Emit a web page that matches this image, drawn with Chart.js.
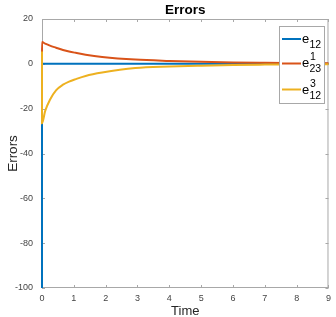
<!DOCTYPE html>
<html>
<head>
<meta charset="utf-8">
<script src="https://cdn.jsdelivr.net/npm/chart.js@4"></script>
<style>
html,body{margin:0;padding:0;background:#fff;}
#wrap{position:relative;width:336px;height:317px;}
canvas{display:block;}
</style>
</head>
<body>
<div id="wrap"><canvas id="c" width="336" height="317"></canvas></div>
<script>
// ---- data ----
const times = [0, 0.001, 0.1, 0.25, 0.44, 0.66, 0.85, 1.06, 1.37, 1.89, 2.93, 4, 5, 6, 7, 8, 9];
const e12   = [-100, 0, 0, 0, 0, 0, 0, 0, 0, 0, 0, 0, 0, 0, 0, 0, 0];
const e23_1 = [0, 9.7, 9.0, 8.1, 7.2, 6.2, 5.5, 4.9, 4.1, 3.1, 1.9, 1.3, 0.9, 0.6, 0.45, 0.35, 0.25];
const e12_3 = [5.5, -26.5, -21, -16, -11.8, -9.3, -7.9, -6.8, -5.4, -3.9, -1.9, -1.2, -0.8, -0.5, -0.35, -0.25, -0.2];
const xTicks = [0, 1, 2, 3, 4, 5, 6, 7, 8, 9];
const yTicks = [-100, -80, -60, -40, -20, 0, 20];
const seriesNames = [["e", "12", ""], ["e", "23", "1"], ["e", "12", "3"]];
const seriesColors = ["#0072BD", "#D95319", "#EDB120"];

const toPts = arr => times.map((t, i) => ({x: t, y: arr[i]}));
const FONT = "'Liberation Sans', Arial, Helvetica, sans-serif";
const AXC = "#a8a8a8";

const decor = {
  id: 'decor',
  beforeDatasetsDraw(chart) {
    const ctx = chart.ctx, a = chart.chartArea;
    const xs = chart.scales.x, ys = chart.scales.y;
    ctx.save();
    ctx.strokeStyle = AXC; ctx.lineWidth = 1;
    ctx.beginPath();
    ctx.rect(a.left + 0.5, a.top + 0.5, a.right - a.left - 1, a.bottom - a.top - 1);
    const tl = 3;
    xs.ticks.forEach((t, i) => {
      const px = Math.round(xs.getPixelForTick(i)) + 0.5;
      ctx.moveTo(px, a.bottom); ctx.lineTo(px, a.bottom - tl);
      ctx.moveTo(px, a.top); ctx.lineTo(px, a.top + tl);
    });
    ys.ticks.forEach((t, i) => {
      const py = Math.round(ys.getPixelForTick(i)) + 0.5;
      ctx.moveTo(a.left, py); ctx.lineTo(a.left + tl, py);
      ctx.moveTo(a.right, py); ctx.lineTo(a.right - tl, py);
    });
    ctx.stroke();
    ctx.restore();
  },
  afterDraw(chart) {
    const ctx = chart.ctx, a = chart.chartArea;
    ctx.save();
    ctx.fillStyle = "#000";
    ctx.font = "bold 13.5px " + FONT;
    ctx.textAlign = "center"; ctx.textBaseline = "alphabetic";
    ctx.fillText("Errors", (a.left + a.right) / 2, 14);
    ctx.fillStyle = "#262626";
    ctx.font = "13px " + FONT;
    ctx.fillText("Time", (a.left + a.right) / 2, 315);
    ctx.save();
    ctx.translate(17, (a.top + a.bottom) / 2);
    ctx.rotate(-Math.PI / 2);
    ctx.font = "13.5px " + FONT;
    ctx.fillText("Errors", 0, 0);
    ctx.restore();
    // legend
    const lx = 279, ly = 26, lw = 45, lh = 77;
    ctx.fillStyle = "#fff";
    ctx.fillRect(lx, ly, lw, lh);
    ctx.strokeStyle = AXC; ctx.lineWidth = 1;
    ctx.strokeRect(lx + 0.5, ly + 0.5, lw, lh);
    const rowsY = [39, 63.5, 89.5];
    const eBase = [42.5, 66.5, 94];
    seriesNames.forEach((n, i) => {
      ctx.strokeStyle = seriesColors[i]; ctx.lineWidth = 2;
      ctx.beginPath(); ctx.moveTo(282, rowsY[i]); ctx.lineTo(301, rowsY[i]); ctx.stroke();
      ctx.fillStyle = "#000"; ctx.textAlign = "left";
      ctx.font = "13px " + FONT;
      ctx.fillText(n[0], 302, eBase[i]);
      ctx.font = "10.5px " + FONT;
      ctx.fillText(n[1], 309.5, eBase[i] + 5);
      if (n[2]) ctx.fillText(n[2], 310, eBase[i] - 7);
    });
    ctx.restore();
  }
};

new Chart(document.getElementById('c'), {
  type: 'line',
  data: {
    datasets: [
      {data: toPts(e12), borderColor: seriesColors[0], order: 2},
      {data: toPts(e23_1), borderColor: seriesColors[1], order: 1},
      {data: toPts(e12_3), borderColor: seriesColors[2], order: 0}
    ].map(d => Object.assign(d, {borderWidth: 2, pointRadius: 0, cubicInterpolationMode: 'monotone', fill: false, clip: 3}))
  },
  options: {
    responsive: false, animation: false, devicePixelRatio: 1,
    layout: {padding: {top: 19, right: 5, left: 0, bottom: 0}},
    plugins: {legend: {display: false}, title: {display: false}, tooltip: {enabled: false}},
    scales: {
      x: {
        type: 'linear', min: 0, max: 9,
        afterBuildTicks: s => { s.ticks = xTicks.map(v => ({value: v})); },
        afterFit: s => { s.height = 29; },
        grid: {display: false, drawTicks: false},
        border: {display: false},
        ticks: {padding: 5, color: "#444", font: {size: 9, family: FONT}, maxRotation: 0}
      },
      y: {
        type: 'linear', min: -100, max: 20,
        afterBuildTicks: s => { s.ticks = yTicks.map(v => ({value: v})); },
        afterFit: s => { s.width = 42; },
        grid: {display: false, drawTicks: false},
        border: {display: false},
        ticks: {padding: 9, color: "#444", font: {size: 9, family: FONT}}
      }
    }
  },
  plugins: [decor]
});
</script>
</body>
</html>
